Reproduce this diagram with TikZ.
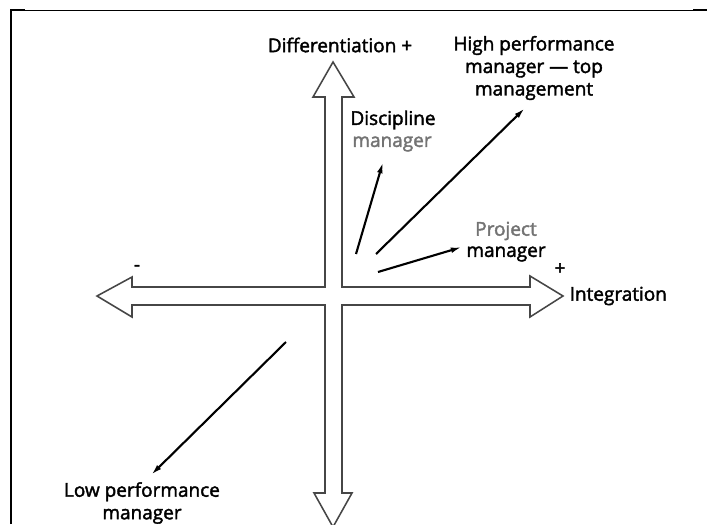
\documentclass[tikz,border=0pt]{standalone}
\usepackage{fontspec}
\setmainfont{Open Sans}
\newfontfamily\lblfont{Open Sans}[Ligatures=TeX, FakeBold=2]
\usetikzlibrary{arrows.meta}
\definecolor{axisgray}{RGB}{70,70,70}

\begin{document}
\begin{tikzpicture}[x=0.025cm, y=-0.025cm,
    lbl/.style={font=\lblfont\fontsize{13.5}{16}\selectfont, inner sep=1pt, align=center},
    pale/.style={text=black!55},
    ptr/.style={line width=1.5pt, -{Latex[length=8pt,width=4pt]}, shorten >=0pt}]
  \useasboundingbox (0,0) rectangle (707,524);

  % frame
  \draw[line width=1.8pt] (11,524) -- (11,10);
  \draw[line width=0.7pt] (10,10) -- (707,10);
  \draw[line width=1.8pt] (10,10) -- (25,10);
  \draw[line width=1.8pt] (693,10) -- (707,10);

  % double arrows (cross)
  \draw[axisgray, line width=1.1pt, fill=white, line join=miter]
    (333,62) -- (354,97) -- (342,97) -- (342,287) -- (530,287) -- (530,276)
    -- (563,296) -- (530,317) -- (530,305) -- (342,305) -- (342,493) -- (352,493)
    -- (333,527) -- (314,493) -- (325,493) -- (325,305) -- (132,305) -- (132,317)
    -- (97,296) -- (132,277) -- (132,287) -- (325,287) -- (325,97) -- (313,97) -- cycle;

  % labels
  \node[lbl] (diff) at (340,45) {Differentiation +};
  \node[lbl] (high) at (534,68) {High performance\\manager --- top\\management};
  \node[lbl] (disc) at (393,120) {Discipline};
  \node[lbl, pale] (discmgr) at (392,144) {manager};
  \node[lbl, pale] (proj) at (506,231) {Project};
  \node[lbl] (projmgr) at (506,254) {manager};
  \node[lbl] (plus) at (560,269) {+};
  \node[lbl, anchor=west] (integ) at (568,296) {Integration};
  \node[lbl] (minus) at (137,268) {-};
  \node[lbl] (low) at (142,503) {Low performance\\manager};

  % manager arrows
  \coordinate (dstart) at (356,254);
  \coordinate (dend) at (383,162);
  \coordinate (hstart) at (376,254);
  \coordinate (hend) at (525,108);
  \coordinate (pstart) at (378,272);
  \coordinate (pend) at (462,247);
  \coordinate (lstart) at (286,342);
  \coordinate (lend) at (151,475);
  \draw[ptr] (dstart) -- (dend);
  \draw[ptr] (hstart) -- (hend);
  \draw[ptr] (pstart) -- (pend);
  \draw[ptr] (lstart) -- (lend);
\end{tikzpicture}
\end{document}
